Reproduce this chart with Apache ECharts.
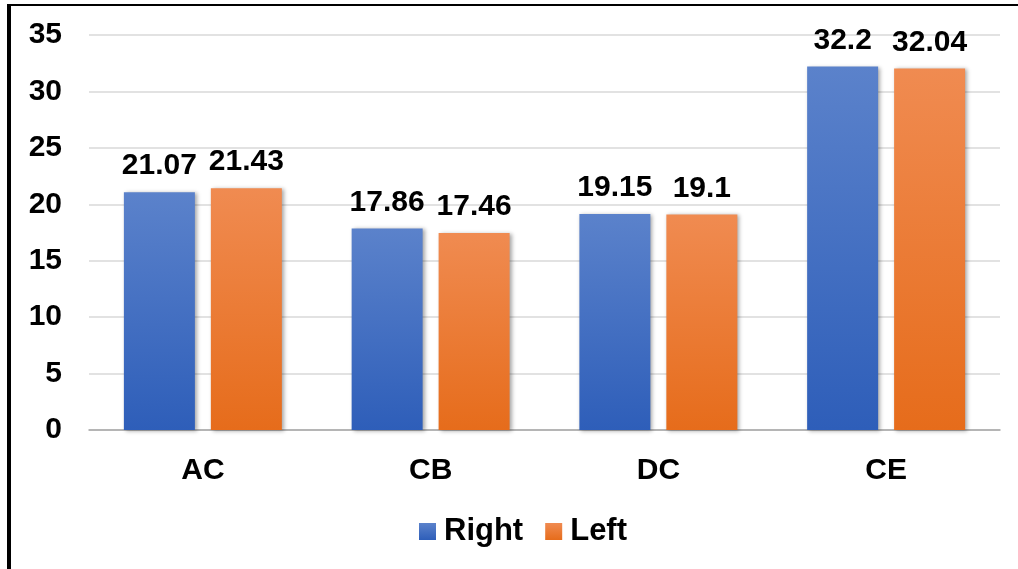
<!DOCTYPE html>
<html>
<head>
<meta charset="utf-8">
<script src="https://cdn.jsdelivr.net/npm/echarts@6/dist/echarts.min.js"></script>
<style>
html,body{margin:0;padding:0;background:#fff;}
#wrap{position:relative;width:1018px;height:569px;overflow:hidden;}
#chart{position:absolute;left:0;top:0;width:1018px;height:569px;}
#frame{position:absolute;left:7px;top:4px;width:1020px;height:563px;border-top:2px solid #000;border-left:4px solid #000;border-bottom:1px solid #999;pointer-events:none;}
</style>
</head>
<body>
<div id="wrap"><div id="chart"></div><div id="frame"></div></div>
<script>
const categories = ['AC', 'CB', 'DC', 'CE'];
const rightValues = [21.07, 17.86, 19.15, 32.2];
const leftValues = [21.43, 17.46, 19.1, 32.04];
const seriesNames = ['Right', 'Left'];
const yMin = 0, yMax = 35, yStep = 5;

const FONT = 'Arial, "Liberation Sans", sans-serif';
function grad(top, bottom) {
  return new echarts.graphic.LinearGradient(0, 0, 0, 1, [
    {offset: 0, color: top}, {offset: 1, color: bottom}
  ]);
}
const blue = grad('#5B82CB', '#2E5EB9');
const orange = grad('#F08B51', '#E66C1B');

const labelStyle = {
  show: true, position: 'top', distance: 11,
  fontFamily: FONT, fontWeight: 'bold', fontSize: 30, color: '#000'
};
const itemShadow = {shadowBlur: 4, shadowColor: 'rgba(0,0,0,0.35)', shadowOffsetX: 2, shadowOffsetY: 1};

const chart = echarts.init(document.getElementById('chart'), null, {renderer: 'canvas'});
chart.setOption({
  animation: false,
  backgroundColor: '#fff',
  grid: {left: 89, right: 18, top: 35, bottom: 139, containLabel: false},
  legend: {
    data: seriesNames, left: 414, top: 511,
    itemWidth: 17, itemHeight: 17, itemGap: 22,
    icon: 'rect',
    textStyle: {fontFamily: FONT, fontWeight: 'bold', fontSize: 31, color: '#000', padding: [0, 0, 0, 3]}
  },
  xAxis: {
    type: 'category', data: categories,
    axisLine: {show: true, lineStyle: {color: '#A6A6A6', width: 1.5}},
    axisTick: {show: false},
    axisLabel: {margin: 26, fontFamily: FONT, fontWeight: 'bold', fontSize: 30, color: '#000'}
  },
  yAxis: {
    type: 'value', min: yMin, max: yMax, interval: yStep,
    axisLine: {show: false}, axisTick: {show: false},
    splitLine: {lineStyle: {color: '#D9D9D9', width: 1.5}},
    axisLabel: {margin: 27, fontFamily: FONT, fontWeight: 'bold', fontSize: 30, color: '#000'}
  },
  series: [
    {name: seriesNames[0], type: 'bar', data: rightValues, barWidth: 71, barGap: '22.5%',
     itemStyle: Object.assign({color: blue}, itemShadow), label: labelStyle},
    {name: seriesNames[1], type: 'bar', data: leftValues, barWidth: 71, barGap: '22.5%',
     itemStyle: Object.assign({color: orange}, itemShadow), label: labelStyle}
  ]
});
</script>
</body>
</html>
